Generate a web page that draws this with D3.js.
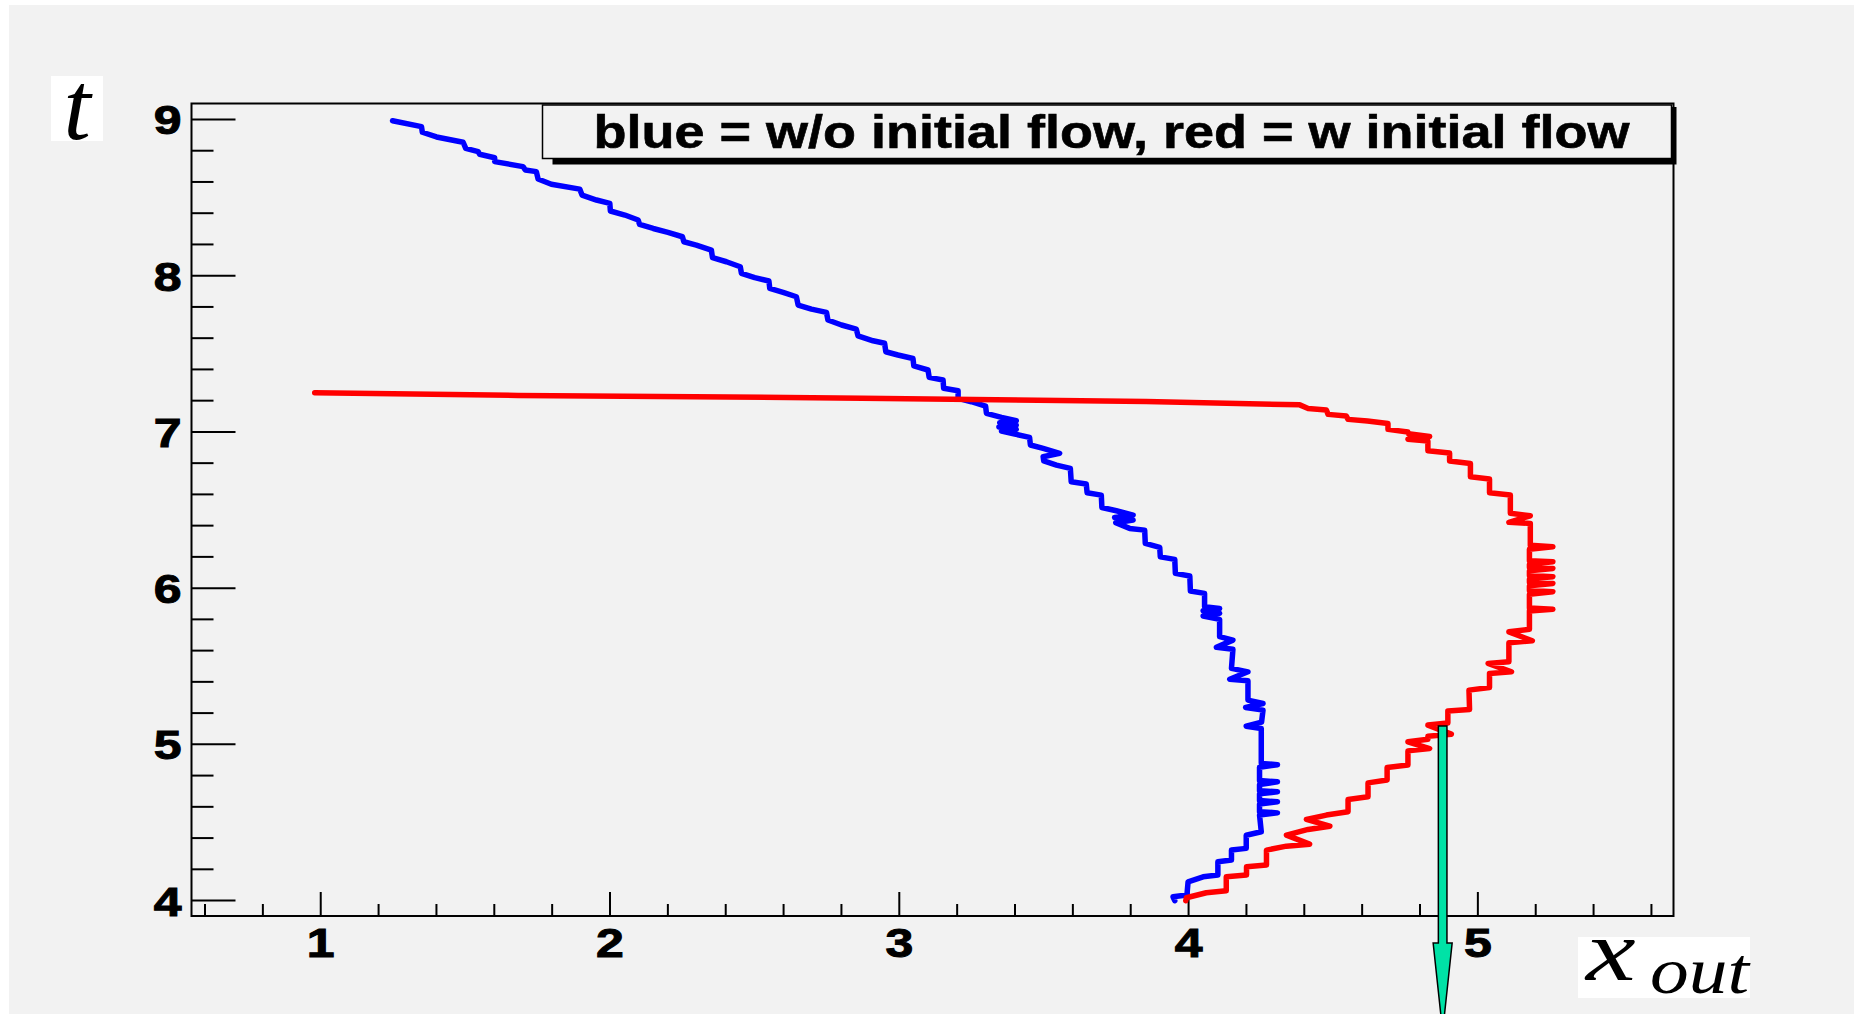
<!DOCTYPE html>
<html>
<head>
<meta charset="utf-8">
<script src="https://cdn.jsdelivr.net/npm/d3@7"></script>
<style>
  html, body { margin: 0; padding: 0; background: #ffffff; }
  svg { display: block; }
</style>
</head>
<body>
<svg id="chart" width="1854" height="1014"></svg>
<script>
// ---- data: trajectories (x_out, t) ----
const blueCurve = [
  [1.250, 8.989], [1.350, 8.951], [1.353, 8.915], [1.402, 8.885], [1.494, 8.851],
  [1.503, 8.812], [1.546, 8.791], [1.551, 8.774], [1.603, 8.752], [1.603, 8.727],
  [1.701, 8.695], [1.709, 8.673], [1.747, 8.663], [1.753, 8.616], [1.799, 8.582],
  [1.897, 8.551], [1.905, 8.513], [1.955, 8.481], [2.001, 8.460], [2.003, 8.411],
  [2.053, 8.385], [2.099, 8.353], [2.104, 8.325], [2.151, 8.299], [2.202, 8.274],
  [2.252, 8.246], [2.257, 8.214], [2.300, 8.193], [2.352, 8.161], [2.356, 8.112],
  [2.404, 8.086], [2.452, 8.054], [2.456, 8.012], [2.502, 7.984], [2.551, 7.963],
  [2.554, 7.915], [2.600, 7.890], [2.646, 7.862], [2.652, 7.809], [2.698, 7.783],
  [2.750, 7.762], [2.755, 7.713], [2.802, 7.681], [2.853, 7.655], [2.859, 7.612],
  [2.911, 7.580], [2.951, 7.564], [2.955, 7.510], [2.997, 7.489], [3.049, 7.467],
  [3.052, 7.419], [3.101, 7.393], [3.105, 7.346], [3.153, 7.329], [3.155, 7.276],
  [3.205, 7.260], [3.205, 7.211], [3.251, 7.190], [3.300, 7.162], [3.303, 7.116],
  [3.355, 7.090], [3.406, 7.068], [3.349, 7.055], [3.406, 7.040], [3.346, 7.028],
  [3.406, 7.013], [3.355, 7.002], [3.401, 6.983], [3.452, 6.962], [3.455, 6.913],
  [3.499, 6.891], [3.556, 6.860], [3.499, 6.838], [3.501, 6.812], [3.545, 6.784],
  [3.593, 6.763], [3.596, 6.678], [3.648, 6.663], [3.651, 6.607], [3.700, 6.592],
  [3.702, 6.513], [3.752, 6.492], [3.810, 6.464], [3.746, 6.449], [3.810, 6.432],
  [3.750, 6.415], [3.798, 6.379], [3.850, 6.368], [3.852, 6.283], [3.902, 6.257],
  [3.904, 6.197], [3.954, 6.181], [3.956, 6.091], [4.006, 6.074], [4.008, 5.978],
  [4.057, 5.963], [4.057, 5.877], [4.109, 5.867], [4.052, 5.852], [4.109, 5.835],
  [4.052, 5.818], [4.109, 5.797], [4.109, 5.686], [4.155, 5.664], [4.098, 5.618],
  [4.155, 5.605], [4.150, 5.483], [4.207, 5.461], [4.144, 5.413], [4.207, 5.404],
  [4.207, 5.280], [4.259, 5.258], [4.199, 5.233], [4.259, 5.216], [4.254, 5.139],
  [4.201, 5.113], [4.253, 5.098], [4.253, 4.875], [4.309, 4.866], [4.247, 4.850],
  [4.247, 4.765], [4.309, 4.757], [4.247, 4.740], [4.247, 4.700], [4.309, 4.693],
  [4.247, 4.680], [4.247, 4.637], [4.309, 4.629], [4.247, 4.615], [4.247, 4.566],
  [4.309, 4.558], [4.247, 4.544], [4.253, 4.437], [4.201, 4.415], [4.201, 4.331],
  [4.150, 4.320], [4.150, 4.256], [4.103, 4.245], [4.103, 4.160], [4.052, 4.149],
  [4.000, 4.117], [3.996, 4.032], [3.948, 4.021], [3.954, 3.996]
];

const redCurve = [
  [0.981, 7.248], [1.684, 7.230], [2.873, 7.213], [3.855, 7.192], [4.133, 7.181],
  [4.386, 7.170], [4.415, 7.147], [4.478, 7.137], [4.484, 7.109], [4.547, 7.098],
  [4.553, 7.077], [4.620, 7.066], [4.691, 7.051], [4.691, 7.013], [4.760, 6.996],
  [4.762, 6.985], [4.835, 6.968], [4.760, 6.950], [4.829, 6.938], [4.829, 6.876],
  [4.904, 6.862], [4.904, 6.810], [4.976, 6.795], [4.976, 6.710], [5.042, 6.695],
  [5.042, 6.607], [5.114, 6.593], [5.114, 6.476], [5.183, 6.460], [5.109, 6.418],
  [5.183, 6.411], [5.183, 6.272], [5.261, 6.262], [5.180, 6.245], [5.180, 6.172],
  [5.261, 6.165], [5.180, 6.150], [5.180, 6.130], [5.261, 6.123], [5.180, 6.108],
  [5.180, 6.078], [5.261, 6.070], [5.180, 6.056], [5.180, 6.035], [5.261, 6.027],
  [5.180, 6.012], [5.180, 5.982], [5.261, 5.974], [5.180, 5.958], [5.180, 5.870],
  [5.261, 5.861], [5.180, 5.850], [5.180, 5.733], [5.109, 5.717], [5.190, 5.660],
  [5.109, 5.647], [5.109, 5.525], [5.037, 5.515], [5.118, 5.461], [5.042, 5.451],
  [5.042, 5.361], [4.971, 5.344], [4.973, 5.220], [4.898, 5.211], [4.898, 5.134],
  [4.829, 5.120], [4.910, 5.062], [4.829, 5.049], [4.829, 5.030], [4.760, 5.013],
  [4.835, 4.970], [4.760, 4.955], [4.760, 4.864], [4.688, 4.849], [4.688, 4.768],
  [4.622, 4.750], [4.622, 4.661], [4.553, 4.644], [4.553, 4.565], [4.478, 4.544],
  [4.409, 4.516], [4.490, 4.473], [4.415, 4.452], [4.340, 4.416], [4.420, 4.358],
  [4.340, 4.345], [4.271, 4.320], [4.271, 4.224], [4.202, 4.213], [4.202, 4.160],
  [4.132, 4.149], [4.132, 4.060], [4.063, 4.047], [3.994, 4.015], [3.992, 3.996]
];

// axis ticks
const xMajorTicks = [1, 2, 3, 4, 5];
const xMinorTicks = [0.6, 0.8, 1.2, 1.4, 1.6, 1.8, 2.2, 2.4, 2.6, 2.8, 3.2, 3.4, 3.6, 3.8,
                     4.2, 4.4, 4.6, 4.8, 5.2, 5.4, 5.6];
const tMajorTicks = [4, 5, 6, 7, 8, 9];
const tMinorTicks = [4.2, 4.4, 4.6, 4.8, 5.2, 5.4, 5.6, 5.8, 6.2, 6.4, 6.6, 6.8,
                     7.2, 7.4, 7.6, 7.8, 8.2, 8.4, 8.6, 8.8];
const xDomain = [0.555, 5.678];
const tDomain = [3.898, 9.099];

// annotation arrow: [x, t at shaft top, t where head begins, t at tip]
const arrowX = 4.880;
const arrowT = [5.114, 3.725, 3.158];

const legendText = "blue = w/o initial flow, red = w initial flow";

// ---- drawing ----
const svg = d3.select("#chart");
const W = 1854, H = 1014;
const frame = { left: 191.5, right: 1673.5, top: 103.5, bottom: 916 };

svg.append("rect").attr("x", 9).attr("y", 5).attr("width", W - 9).attr("height", H - 5)
  .attr("fill", "#f2f2f2");

const x = d3.scaleLinear().domain(xDomain).range([frame.left, frame.right]);
const y = d3.scaleLinear().domain(tDomain).range([frame.bottom, frame.top]);

const labelFont = "'Liberation Sans', Arial, Helvetica, sans-serif";

// frame
svg.append("rect")
  .attr("x", frame.left).attr("y", frame.top)
  .attr("width", frame.right - frame.left).attr("height", frame.bottom - frame.top)
  .attr("fill", "none").attr("stroke", "#000").attr("stroke-width", 2);

// x axis (ticks point inward)
const gx = svg.append("g").attr("transform", `translate(0,${frame.bottom})`);
gx.append("g").call(d3.axisBottom(x).tickValues(xMinorTicks).tickSize(-12).tickFormat(""))
  .call(g => g.select(".domain").remove());
gx.append("g").call(d3.axisBottom(x).tickValues(xMajorTicks).tickSize(-24).tickSizeOuter(0)
    .tickFormat(d3.format("d")))
  .call(g => g.select(".domain").remove())
  .call(g => g.selectAll("text")
    .attr("x", 0).attr("y", 0).attr("dy", 0)
    .attr("transform", "translate(0,41) scale(1.22,1)")
    .attr("text-anchor", "middle"));

// t axis
const gy = svg.append("g").attr("transform", `translate(${frame.left},0)`);
gy.append("g").call(d3.axisLeft(y).tickValues(tMinorTicks).tickSize(-22).tickFormat(""))
  .call(g => g.select(".domain").remove());
gy.append("g").call(d3.axisLeft(y).tickValues(tMajorTicks).tickSize(-44).tickSizeOuter(0)
    .tickFormat(d3.format("d")))
  .call(g => g.select(".domain").remove())
  .call(g => g.selectAll("text")
    .attr("x", 0).attr("y", 0).attr("dy", 0)
    .attr("transform", "translate(-10,15) scale(1.22,1)")
    .attr("text-anchor", "end"));

svg.selectAll(".tick line").attr("stroke", "#000").attr("stroke-width", 2);
svg.selectAll(".tick text")
  .attr("fill", "#000")
  .attr("stroke", "#000").attr("stroke-width", 1)
  .style("font-family", labelFont)
  .style("font-weight", "bold")
  .style("font-size", "41px");

// curves
const line = d3.line().x(d => x(d[0])).y(d => y(d[1]));
svg.append("path").datum(blueCurve).attr("d", line)
  .attr("fill", "none").attr("stroke", "#0000ff").attr("stroke-width", 5.5)
  .attr("stroke-linejoin", "round").attr("stroke-linecap", "round");
svg.append("path").datum(redCurve).attr("d", line)
  .attr("fill", "none").attr("stroke", "#ff0000").attr("stroke-width", 5.5)
  .attr("stroke-linejoin", "round").attr("stroke-linecap", "round");

// legend box with drop shadow
const lb = { x: 542.5, y: 105, w: 1129, h: 53.5 };
svg.append("path")
  .attr("d", `M${lb.x + lb.w},${lb.y + 2} H${lb.x + lb.w + 5} V${lb.y + lb.h + 6}
              H${lb.x + 10} V${lb.y + lb.h} H${lb.x + lb.w} Z`)
  .attr("fill", "#000");
svg.append("rect").attr("x", lb.x).attr("y", lb.y).attr("width", lb.w).attr("height", lb.h)
  .attr("fill", "#f2f2f2").attr("stroke", "#000").attr("stroke-width", 1.5);
svg.append("text")
  .attr("x", 593.5).attr("y", 148)
  .attr("textLength", 1036).attr("lengthAdjust", "spacingAndGlyphs")
  .style("font-family", labelFont).style("font-weight", "bold").style("font-size", "46px")
  .attr("fill", "#000").attr("stroke", "#000").attr("stroke-width", 0.6)
  .text(legendText);

// arrow marker pointing down
const ax = x(arrowX);
const yTop = y(arrowT[0]), yHead = y(arrowT[1]), yTip = y(arrowT[2]);
const shaftHalf = 4.3, headHalf = 9.5;
svg.append("path")
  .attr("d", `M${ax - shaftHalf},${yTop} H${ax + shaftHalf} V${yHead} H${ax + headHalf}
              L${ax},${yTip} L${ax - headHalf},${yHead} H${ax - shaftHalf} Z`)
  .attr("fill", "#00e2a6").attr("stroke", "#000").attr("stroke-width", 1.5)
  .attr("stroke-linejoin", "miter");

// axis titles on white patches
const serif = "'Liberation Serif', 'Times New Roman', serif";
svg.append("rect").attr("x", 51).attr("y", 76).attr("width", 52).attr("height", 65).attr("fill", "#fff");
svg.append("text").attr("x", 77).attr("y", 139).attr("text-anchor", "middle")
  .style("font-family", serif).style("font-style", "italic").style("font-size", "98px")
  .attr("fill", "#000").text("t");

svg.append("rect").attr("x", 1578).attr("y", 937).attr("width", 172).attr("height", 61).attr("fill", "#fff");
svg.append("text").attr("transform", "translate(1586,980) scale(1.3,1)")
  .style("font-family", serif).style("font-style", "italic").style("font-size", "86px")
  .attr("fill", "#000").text("x");
svg.append("text").attr("x", 1650).attr("y", 993)
  .attr("textLength", 99).attr("lengthAdjust", "spacingAndGlyphs")
  .style("font-family", serif).style("font-style", "italic").style("font-size", "65px")
  .attr("fill", "#000").text("out");
</script>
</body>
</html>
